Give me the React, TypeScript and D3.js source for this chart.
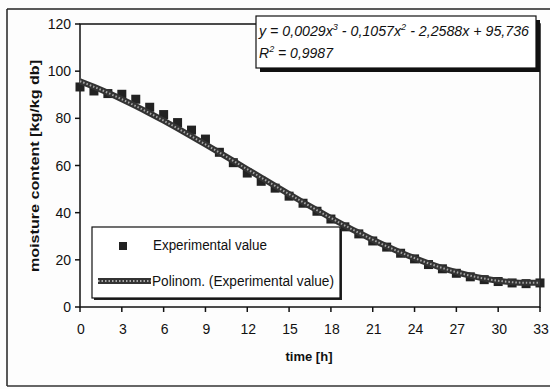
import React from "react";
import * as d3 from "d3";

const hours = [0,1,2,3,4,5,6,7,8,9,10,11,12,13,14,15,16,17,18,19,20,21,22,23,24,25,26,27,28,29,30,31,32,33];
const experimental = [93.3,91.6,90.5,90.2,88.1,84.7,81.6,78.2,75.0,71.2,65.6,61.2,56.8,53.3,50.4,47.0,44.0,40.6,37.3,34.0,31.0,28.0,25.4,22.8,20.4,18.0,16.2,14.3,12.8,11.6,10.8,10.2,9.9,10.2];
const trend = [95.74,93.37,90.82,88.09,85.20,82.16,79.00,75.74,72.39,68.96,65.48,61.96,58.42,54.88,51.35,47.86,44.41,41.04,37.74,34.55,31.48,28.54,25.76,23.15,20.73,18.52,16.52,14.77,13.28,12.07,11.14,10.53,10.25,10.31];
const xTicks = [0,3,6,9,12,15,18,21,24,27,30,33];
const yTicks = [0,20,40,60,80,100,120];

const FONT = "'Liberation Sans', Arial, sans-serif";

export default function App() {
  const x = d3.scaleLinear().domain([0, 33]).range([80, 540]);
  const y = d3.scaleLinear().domain([0, 120]).range([307, 24]);
  const line = d3.line<number>().x((_, i) => x(hours[i])).y((d) => y(d)).curve(d3.curveCatmullRom);
  const path = line(trend) || "";

  return (
    <svg width={550} height={389} style={{ position: "absolute", left: 0, top: 0, background: "#fff" }} fontFamily={FONT}>
      <rect x={0} y={0} width={550} height={389} fill="#fdfdfd" />
      {/* outer frame */}
      <line x1={7} y1={9} x2={550} y2={9} stroke="#222" strokeWidth={1.5} />
      <line x1={7} y1={9} x2={7} y2={386} stroke="#222" strokeWidth={1.5} />
      <line x1={7} y1={386} x2={550} y2={386} stroke="#333" strokeWidth={1.5} />

      {/* plot border */}
      <rect x={x(0)} y={y(120)} width={x(33) - x(0)} height={y(0) - y(120)} fill="none" stroke="#111" strokeWidth={1.5} />

      {/* y ticks */}
      {yTicks.map((t) => (
        <g key={"y" + t}>
          <line x1={x(0) - 5} x2={x(0)} y1={y(t)} y2={y(t)} stroke="#111" strokeWidth={1.5} />
          <text x={x(0) - 9} y={y(t) + 5} textAnchor="end" fontSize={14} fill="#111">{t}</text>
        </g>
      ))}
      {/* x ticks */}
      {xTicks.map((t) => (
        <g key={"x" + t}>
          <line x1={x(t)} x2={x(t)} y1={y(0)} y2={y(0) + 5} stroke="#111" strokeWidth={1.5} />
          <text x={x(t) + 1} y={y(0) + 27} textAnchor="middle" fontSize={14} fill="#111">{t}</text>
        </g>
      ))}

      {/* axis titles */}
      <text x={309} y={361} textAnchor="middle" fontSize={13} fontWeight="bold" fill="#111">time [h]</text>
      <text transform={`translate(39,166) rotate(-90)`} textAnchor="middle" fontSize={13} fontWeight="bold" fill="#111" textLength={212} lengthAdjust="spacingAndGlyphs">moisture content [kg/kg db]</text>

      {/* experimental squares */}
      {experimental.map((v, i) => (
        <rect key={"p" + i} x={x(hours[i]) - 4.5} y={y(v) - 4.5} width={9} height={9} fill="#222" />
      ))}

      {/* trend line */}
      <path d={path} fill="none" stroke="#333" strokeWidth={6} />
      <path d={path} fill="none" stroke="#a8a8a8" strokeWidth={2} strokeDasharray="1.5 2" />

      {/* equation box */}
      <rect x={260} y={20} width={280} height={52} fill="#111" />
      <rect x={256} y={16} width={280} height={52} fill="#fff" stroke="#111" strokeWidth={1.2} />
      <text x={259} y={36} fontSize={14} fontStyle="italic" fill="#111" textLength={270} lengthAdjust="spacingAndGlyphs">
        y = 0,0029x<tspan dy={-6} fontSize={9}>3</tspan><tspan dy={6}> - 0,1057x</tspan><tspan dy={-6} fontSize={9}>2</tspan><tspan dy={6}> - 2,2588x + 95,736</tspan>
      </text>
      <text x={259} y={58} fontSize={14} fontStyle="italic" fill="#111">
        R<tspan dy={-6} fontSize={9}>2</tspan><tspan dy={6}> = 0,9987</tspan>
      </text>

      {/* legend */}
      <rect x={94} y={229} width={248} height={71} fill="#222" />
      <rect x={92} y={227} width={248} height={71} fill="#fff" stroke="#111" strokeWidth={1.2} />
      <rect x={119} y={242} width={8} height={8} fill="#222" />
      <text x={153} y={250} fontSize={14} fill="#111" textLength={114} lengthAdjust="spacingAndGlyphs">Experimental value</text>
      <line x1={98} x2={151} y1={281} y2={281} stroke="#333" strokeWidth={6} />
      <line x1={98} x2={151} y1={281} y2={281} stroke="#a8a8a8" strokeWidth={2} strokeDasharray="1.5 2" />
      <text x={152} y={286} fontSize={14} fill="#111" textLength={182} lengthAdjust="spacingAndGlyphs">Polinom. (Experimental value)</text>
    </svg>
  );
}
